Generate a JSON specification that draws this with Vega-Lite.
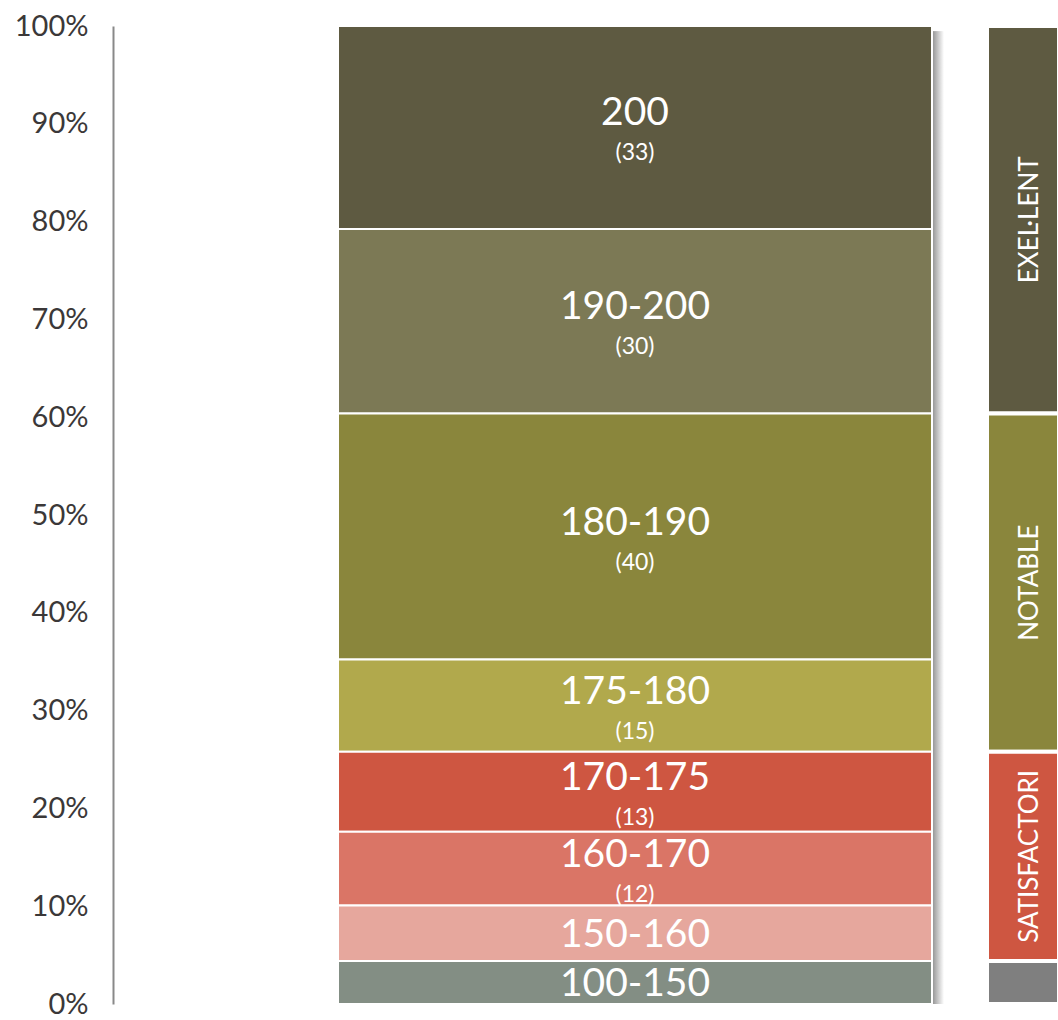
{
  "$schema": "https://vega.github.io/schema/vega-lite/v6.json",
  "autosize": {"type": "fit", "contains": "padding"},
  "width": 1058,
  "height": 1020,
  "padding": {"left": 14, "top": 12, "right": -3, "bottom": 0},
  "config": {"view": {"stroke": null}, "font": "Lato"},
  "datasets": {
    "notes": [
      {"rang": "200", "des": 200, "n": 33, "etiqueta_n": "(33)", "qualificacio": "EXEL·LENT"},
      {"rang": "190-200", "des": 190, "n": 30, "etiqueta_n": "(30)", "qualificacio": "EXEL·LENT"},
      {"rang": "180-190", "des": 180, "n": 40, "etiqueta_n": "(40)", "qualificacio": "NOTABLE"},
      {"rang": "175-180", "des": 175, "n": 15, "etiqueta_n": "(15)", "qualificacio": "NOTABLE"},
      {"rang": "170-175", "des": 170, "n": 13, "etiqueta_n": "(13)", "qualificacio": "SATISFACTORI"},
      {"rang": "160-170", "des": 160, "n": 12, "etiqueta_n": "(12)", "qualificacio": "SATISFACTORI"},
      {"rang": "150-160", "des": 150, "n": 9, "etiqueta_n": "", "qualificacio": "SATISFACTORI"},
      {"rang": "100-150", "des": 100, "n": 7, "etiqueta_n": "", "qualificacio": ""}
    ]
  },
  "data": {"name": "notes"},
  "layer": [
    {
      "mark": {
        "type": "bar",
        "fill": {"gradient": "linear", "x1": 0, "y1": 0, "x2": 1, "y2": 0, "stops": [{"offset": 0, "color": "#8f8f8f"}, {"offset": 1, "color": "#ffffff"}]}
      },
      "encoding": {
        "x": {"datum": "ombra", "type": "nominal", "scale": {"type": "band", "paddingInner": 0.96615, "paddingOuter": 1, "align": 0.8378}, "axis": null},
        "y": {
          "datum": 0, "type": "quantitative",
          "axis": {"values": [0, 0.1, 0.2, 0.3, 0.4, 0.5, 0.6, 0.7, 0.8, 0.9, 1], "format": ".0%", "offset": 225, "grid": false, "ticks": false, "tickSize": 0, "domainColor": "#898989", "domainWidth": 2, "labelFont": "Lato", "labelFontSize": 29, "labelColor": "#3b3838", "labelPadding": 25, "title": null}
        },
        "y2": {"datum": 0.994}
      }
    },
    {
      "mark": {"type": "bar", "stroke": "white", "strokeWidth": 2},
      "encoding": {
        "x": {"datum": "Notes", "type": "nominal", "scale": {"type": "band", "paddingInner": 0, "paddingOuter": 0.1069, "align": 0}, "axis": null},
        "y": {
          "field": "n", "type": "quantitative", "stack": "normalize",
          "axis": {"values": [0, 0.1, 0.2, 0.3, 0.4, 0.5, 0.6, 0.7, 0.8, 0.9, 1], "format": ".0%", "offset": 225, "grid": false, "ticks": false, "tickSize": 0, "domainColor": "#898989", "domainWidth": 2, "labelFont": "Lato", "labelFontSize": 29, "labelColor": "#3b3838", "labelPadding": 25, "title": null}
        },
        "color": {
          "field": "rang",
          "type": "nominal",
          "scale": {
            "domain": ["200", "190-200", "180-190", "175-180", "170-175", "160-170", "150-160", "100-150"],
            "range": ["#5e5a41", "#7c7955", "#8a863c", "#b1a94c", "#ce5641", "#da7566", "#e6a79d", "#838e84"]
          },
          "legend": null
        },
        "order": {"field": "des", "type": "quantitative"}
      }
    },
    {
      "mark": {"type": "text", "color": "white", "fontSize": 39, "dy": -14},
      "encoding": {
        "x": {"datum": "Notes", "type": "nominal", "scale": {"type": "band", "paddingInner": 0, "paddingOuter": 0.1069, "align": 0}, "axis": null},
        "y": {
          "field": "n", "type": "quantitative", "stack": "normalize", "bandPosition": 0.5,
          "axis": {"values": [0, 0.1, 0.2, 0.3, 0.4, 0.5, 0.6, 0.7, 0.8, 0.9, 1], "format": ".0%", "offset": 225, "grid": false, "ticks": false, "tickSize": 0, "domainColor": "#898989", "domainWidth": 2, "labelFont": "Lato", "labelFontSize": 29, "labelColor": "#3b3838", "labelPadding": 25, "title": null}
        },
        "text": {"field": "rang"},
        "order": {"field": "des", "type": "quantitative"},
        "opacity": {"condition": {"test": "datum.etiqueta_n != ''", "value": 1}, "value": 0}
      }
    },
    {
      "mark": {"type": "text", "color": "white", "fontSize": 39, "dy": 2},
      "encoding": {
        "x": {"datum": "Notes", "type": "nominal", "scale": {"type": "band", "paddingInner": 0, "paddingOuter": 0.1069, "align": 0}, "axis": null},
        "y": {
          "field": "n", "type": "quantitative", "stack": "normalize", "bandPosition": 0.5,
          "axis": {"values": [0, 0.1, 0.2, 0.3, 0.4, 0.5, 0.6, 0.7, 0.8, 0.9, 1], "format": ".0%", "offset": 225, "grid": false, "ticks": false, "tickSize": 0, "domainColor": "#898989", "domainWidth": 2, "labelFont": "Lato", "labelFontSize": 29, "labelColor": "#3b3838", "labelPadding": 25, "title": null}
        },
        "text": {"field": "rang"},
        "order": {"field": "des", "type": "quantitative"},
        "opacity": {"condition": {"test": "datum.etiqueta_n == ''", "value": 1}, "value": 0}
      }
    },
    {
      "mark": {"type": "text", "color": "white", "fontSize": 23, "dy": 26},
      "encoding": {
        "x": {"datum": "Notes", "type": "nominal", "scale": {"type": "band", "paddingInner": 0, "paddingOuter": 0.1069, "align": 0}, "axis": null},
        "y": {
          "field": "n", "type": "quantitative", "stack": "normalize", "bandPosition": 0.5,
          "axis": {"values": [0, 0.1, 0.2, 0.3, 0.4, 0.5, 0.6, 0.7, 0.8, 0.9, 1], "format": ".0%", "offset": 225, "grid": false, "ticks": false, "tickSize": 0, "domainColor": "#898989", "domainWidth": 2, "labelFont": "Lato", "labelFontSize": 29, "labelColor": "#3b3838", "labelPadding": 25, "title": null}
        },
        "text": {"field": "etiqueta_n"},
        "detail": {"field": "rang"},
        "order": {"field": "des", "type": "quantitative"}
      }
    },
    {
      "mark": {"type": "bar", "stroke": "white", "strokeWidth": 4},
      "encoding": {
        "x": {"datum": "Qualificació", "type": "nominal", "scale": {"type": "band", "paddingInner": 0.77812, "paddingOuter": 1, "align": 1}, "axis": null},
        "y": {
          "aggregate": "sum", "field": "n", "type": "quantitative", "stack": "normalize",
          "axis": {"values": [0, 0.1, 0.2, 0.3, 0.4, 0.5, 0.6, 0.7, 0.8, 0.9, 1], "format": ".0%", "offset": 225, "grid": false, "ticks": false, "tickSize": 0, "domainColor": "#898989", "domainWidth": 2, "labelFont": "Lato", "labelFontSize": 29, "labelColor": "#3b3838", "labelPadding": 25, "title": null}
        },
        "color": {
          "field": "qualificacio",
          "type": "nominal",
          "scale": {
            "domain": ["EXEL·LENT", "NOTABLE", "SATISFACTORI", ""],
            "range": ["#5e5a41", "#8a863c", "#ce5641", "#7f7f7f"]
          },
          "legend": null
        },
        "order": {"aggregate": "min", "field": "des", "type": "quantitative"}
      }
    },
    {
      "mark": {"type": "text", "color": "white", "fontSize": 26, "angle": 270, "dy": 7},
      "encoding": {
        "x": {"datum": "Qualificació", "type": "nominal", "scale": {"type": "band", "paddingInner": 0.77812, "paddingOuter": 1, "align": 1}, "axis": null},
        "y": {
          "aggregate": "sum", "field": "n", "type": "quantitative", "stack": "normalize", "bandPosition": 0.5,
          "axis": {"values": [0, 0.1, 0.2, 0.3, 0.4, 0.5, 0.6, 0.7, 0.8, 0.9, 1], "format": ".0%", "offset": 225, "grid": false, "ticks": false, "tickSize": 0, "domainColor": "#898989", "domainWidth": 2, "labelFont": "Lato", "labelFontSize": 29, "labelColor": "#3b3838", "labelPadding": 25, "title": null}
        },
        "text": {"field": "qualificacio"},
        "order": {"aggregate": "min", "field": "des", "type": "quantitative"}
      }
    }
  ],
  "resolve": {"scale": {"x": "independent", "color": "independent"}}
}
